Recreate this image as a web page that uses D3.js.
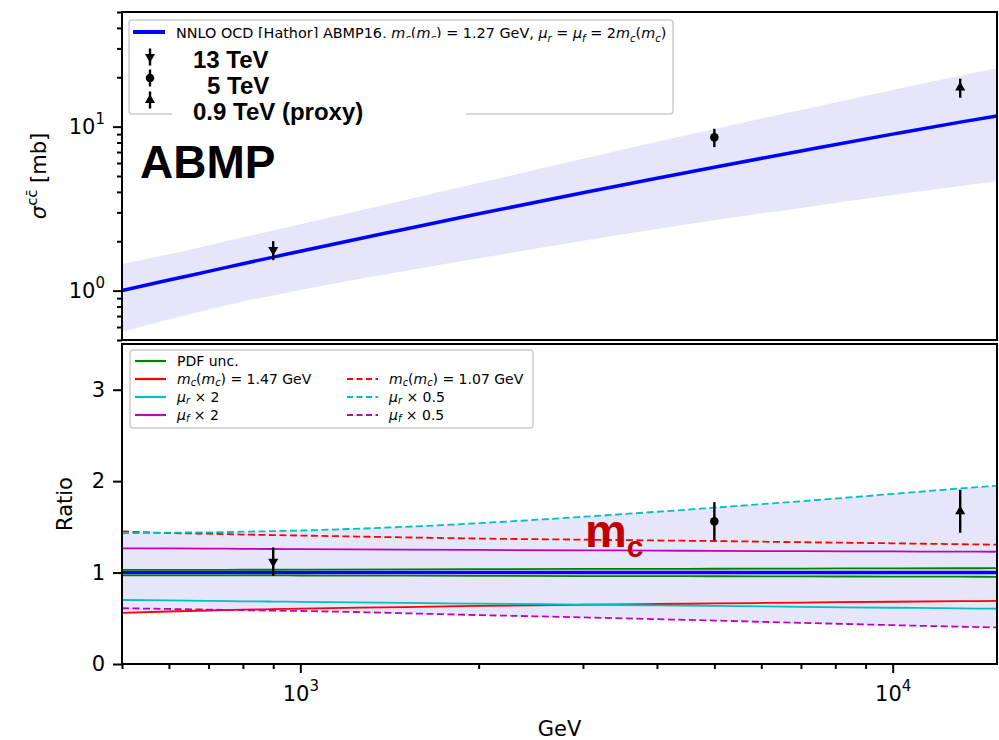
<!DOCTYPE html>
<html>
<head>
<meta charset="utf-8">
<script src="https://cdn.jsdelivr.net/npm/d3@7"></script>
<style>
  body { margin: 0; background: #fff; }
  svg { display: block; }
  text { white-space: pre; }
</style>
</head>
<body>
<svg id="chart" width="999" height="740"></svg>
<script>
// ---- data -------------------------------------------------------------
// centre-of-mass energy grid [GeV]
const energies = [500, 600, 700, 800, 900, 1000, 1500, 2000, 3000, 4000, 5000, 7000, 10000, 13000, 15000];
// NNLO QCD (Hathor) total charm cross section, ABMP16 [mb]
const sigmaCentral = [1.00, 1.16, 1.31, 1.46, 1.60, 1.74, 2.37, 2.94, 3.95, 4.85, 5.66, 7.10, 9.00, 10.65, 11.6];

// ratios of each variation to the central prediction
const pdfUp   = [1.030, 1.030, 1.030, 1.031, 1.031, 1.032, 1.035, 1.037, 1.040, 1.041, 1.042, 1.044, 1.046, 1.047, 1.048];
const pdfDown = [0.970, 0.970, 0.970, 0.969, 0.969, 0.968, 0.966, 0.964, 0.962, 0.961, 0.960, 0.958, 0.956, 0.955, 0.954];
const mcHigh  = [0.560, 0.574, 0.585, 0.594, 0.600, 0.606, 0.623, 0.635, 0.648, 0.656, 0.662, 0.672, 0.681, 0.687, 0.690];
const mcLow   = [1.450, 1.432, 1.425, 1.416, 1.410, 1.405, 1.385, 1.372, 1.360, 1.351, 1.345, 1.332, 1.320, 1.310, 1.305];
const murUp   = [0.700, 0.695, 0.690, 0.686, 0.683, 0.680, 0.668, 0.660, 0.650, 0.641, 0.635, 0.625, 0.615, 0.608, 0.605];
const murDown = [1.430, 1.437, 1.440, 1.447, 1.453, 1.460, 1.500, 1.540, 1.610, 1.665, 1.710, 1.780, 1.860, 1.920, 1.950];
const mufUp   = [1.265, 1.264, 1.262, 1.260, 1.258, 1.257, 1.252, 1.248, 1.243, 1.240, 1.237, 1.234, 1.231, 1.229, 1.228];
const mufDown = [0.610, 0.602, 0.595, 0.589, 0.584, 0.580, 0.555, 0.535, 0.510, 0.490, 0.475, 0.450, 0.425, 0.408, 0.400];

// measurements
const pointEnergies = [900, 5000, 13000];
const pointMarkers  = ["down", "circle", "up"];
const sigmaData     = [1.77, 8.6, 17.3];
const sigmaErr      = [0.235, 1.1, 2.3];
const ratioData     = [1.12, 1.56, 1.67];
const ratioErr      = [0.155, 0.21, 0.235];
const pointLabels   = ["13 TeV", "5 TeV", "0.9 TeV (proxy)"];

// axis ticks
const xMajor = [1000, 10000];
const xMinor = [500, 600, 700, 800, 900, 2000, 3000, 4000, 5000, 6000, 7000, 8000, 9000];
const sigMajor = [1, 10];
const sigMinor = [0.5, 0.6, 0.7, 0.8, 0.9, 2, 3, 4, 5, 6, 7, 8, 9, 20, 30, 40, 50];
const ratioTicks = [0, 1, 2, 3];

// ---- layout -----------------------------------------------------------
const FONT = '"DejaVu Sans", sans-serif';
const BOLD = '"Liberation Sans", Arial, sans-serif';
const svg = d3.select("#chart");
const L = 122, R = 997;
const panelTop = { y0: 12, y1: 340 };
const panelBot = { y0: 344, y1: 664 };

const x = d3.scaleLog().domain([500, 15000]).range([L, R]);
const ySig = d3.scaleLog().domain([0.5, 50]).range([panelTop.y1, panelTop.y0]);
const yRat = d3.scaleLinear().domain([0, 3.5]).range([panelBot.y1, panelBot.y0]);

const variations = [
  { v: mcHigh,  color: "#ff0000", dash: null },
  { v: mcLow,   color: "#ff0000", dash: "7,3.5" },
  { v: murUp,   color: "#00bfbf", dash: null },
  { v: murDown, color: "#00bfbf", dash: "7,3.5" },
  { v: mufUp,   color: "#bf00bf", dash: null },
  { v: mufDown, color: "#bf00bf", dash: "7,3.5" }
];
const allRatios = [pdfUp, pdfDown, mcHigh, mcLow, murUp, murDown, mufUp, mufDown];
const envLo = energies.map((e, i) => d3.min(allRatios, a => a[i]));
const envHi = energies.map((e, i) => d3.max(allRatios, a => a[i]));

const defs = svg.append("defs");
defs.append("clipPath").attr("id", "clipTop").append("rect")
  .attr("x", L).attr("y", panelTop.y0).attr("width", R - L).attr("height", panelTop.y1 - panelTop.y0);
defs.append("clipPath").attr("id", "clipBot").append("rect")
  .attr("x", L).attr("y", panelBot.y0).attr("width", R - L).attr("height", panelBot.y1 - panelBot.y0);

// rich text: [text, kind] with kind n (normal), i (italic), s (italic subscript), u (superscript)
function rich(textSel, parts, size, subShift) {
  const sub = subShift === undefined ? 0.28 : subShift;
  let shift = 0;
  parts.forEach(([t, k]) => {
    let target = 0, fs = size;
    if (k === "s") { target = size * sub; fs = size * 0.7; }
    if (k === "u") { target = -size * 0.42; fs = size * 0.7; }
    const ts = textSel.append("tspan").text(t).attr("font-size", fs);
    if (target - shift !== 0) ts.attr("dy", target - shift);
    if (k === "i" || k === "s") ts.attr("font-style", "italic");
    shift = target;
  });
}

function marker(g, kind, cx, cy, scale) {
  const s = scale || 1;
  if (kind === "circle") {
    g.append("circle").attr("cx", cx).attr("cy", cy).attr("r", 4.3 * s).attr("fill", "#000");
  } else {
    const sym = d3.symbol().type(d3.symbolTriangle).size(44 * s * s);
    g.append("path").attr("d", sym())
      .attr("transform", `translate(${cx},${cy})` + (kind === "down" ? " rotate(180)" : ""))
      .attr("fill", "#000");
  }
}

function errorPoint(g, kind, cx, cy, yLo, yHi) {
  g.append("line").attr("x1", cx).attr("x2", cx).attr("y1", yLo).attr("y2", yHi)
    .attr("stroke", "#000").attr("stroke-width", 2.4);
  marker(g, kind, cx, cy);
}

function powLabels(sel) {
  sel.each(function (d) {
    const t = d3.select(this);
    t.text(null);
    t.append("tspan").text("10");
    t.append("tspan").attr("dy", -10).attr("font-size", 15).text(Math.round(Math.log10(d)));
  });
}

function styleAxis(g) {
  g.select(".domain").remove();
  g.selectAll(".tick line").attr("stroke", "#000").attr("stroke-width", 2);
  g.selectAll(".tick text").attr("font-family", FONT).attr("font-size", 21).attr("fill", "#000");
}

// ---- top panel: cross section ------------------------------------------
const gTop = svg.append("g").attr("clip-path", "url(#clipTop)");
gTop.append("path")
  .datum(energies.map((e, i) => ({ e, lo: sigmaCentral[i] * envLo[i], hi: sigmaCentral[i] * envHi[i] })))
  .attr("fill", "#e6e6fa")
  .attr("d", d3.area().x(d => x(d.e)).y0(d => ySig(d.lo)).y1(d => ySig(d.hi)).curve(d3.curveMonotoneX));
gTop.append("path")
  .datum(energies.map((e, i) => ({ e, v: sigmaCentral[i] })))
  .attr("fill", "none").attr("stroke", "#0000ff").attr("stroke-width", 3.5)
  .attr("d", d3.line().x(d => x(d.e)).y(d => ySig(d.v)).curve(d3.curveMonotoneX));
pointEnergies.forEach((e, i) => {
  errorPoint(gTop, pointMarkers[i], x(e), ySig(sigmaData[i]),
    ySig(sigmaData[i] - sigmaErr[i]), ySig(sigmaData[i] + sigmaErr[i]));
});

svg.append("g").attr("transform", `translate(${L},0)`)
  .call(d3.axisLeft(ySig).tickValues(sigMinor).tickSize(5).tickFormat(""))
  .call(styleAxis);
svg.append("g").attr("transform", `translate(${L},0)`)
  .call(d3.axisLeft(ySig).tickValues(sigMajor).tickSize(9).tickPadding(8))
  .call(styleAxis)
  .call(g => g.selectAll(".tick text").call(powLabels));

svg.append("rect").attr("x", L).attr("y", panelTop.y0).attr("width", R - L).attr("height", panelTop.y1 - panelTop.y0)
  .attr("fill", "none").attr("stroke", "#000").attr("stroke-width", 2);

// y label: sigma^{c cbar} [mb]
const sigLab = svg.append("text")
  .attr("transform", `translate(46,${(panelTop.y0 + panelTop.y1) / 2}) rotate(-90)`)
  .attr("text-anchor", "middle").attr("font-family", FONT).attr("font-size", 21);
rich(sigLab, [["σ", "i"], ["cc\u0304", "u"], [" [mb]", "n"]], 21);

// top legend
const legTop = svg.append("g");
legTop.append("rect").attr("x", 129).attr("y", 20).attr("width", 544).attr("height", 94).attr("rx", 3)
  .attr("fill", "#fff").attr("fill-opacity", 0.8).attr("stroke", "#cccccc").attr("stroke-width", 1.5);
legTop.append("line").attr("x1", 133).attr("x2", 165).attr("y1", 32).attr("y2", 32)
  .attr("stroke", "#0000ff").attr("stroke-width", 4);
const legTopText = legTop.append("text").attr("x", 176).attr("y", 37.5)
  .attr("font-family", FONT).attr("font-size", 14.4).attr("fill", "#000");
rich(legTopText, [
  ["NNLO QCD [Hathor] ABMP16, ", "n"], ["m", "i"], ["c", "s"], ["(", "n"], ["m", "i"], ["c", "s"],
  [") = 1.27 GeV, ", "n"], ["μ", "i"], ["r", "s"], [" = ", "n"], ["μ", "i"], ["f", "s"],
  [" = 2", "n"], ["m", "i"], ["c", "s"], ["(", "n"], ["m", "i"], ["c", "s"], [")", "n"]
], 14.4);
const legRowsY = [57, 78, 100];
pointMarkers.forEach((k, i) => {
  legTop.append("line").attr("x1", 150).attr("x2", 150).attr("y1", legRowsY[i] - 8.5).attr("y2", legRowsY[i] + 8.5)
    .attr("stroke", "#000").attr("stroke-width", 2.4);
  marker(legTop, k, 150, legRowsY[i]);
});
// label box over the legend
legTop.append("rect").attr("x", 172).attr("y", 38).attr("width", 294).attr("height", 90).attr("fill", "#fff");
const labX = [193, 207, 193];
const labY = [68, 94, 120];
pointLabels.forEach((t, i) => {
  legTop.append("text").attr("x", labX[i]).attr("y", labY[i])
    .attr("font-family", BOLD).attr("font-weight", "bold").attr("font-size", 24).attr("fill", "#000").text(t);
});
svg.append("text").attr("x", 140).attr("y", 178)
  .attr("font-family", BOLD).attr("font-weight", "bold").attr("font-size", 46).attr("fill", "#000").text("ABMP");

// ---- bottom panel: ratios ----------------------------------------------
const gBot = svg.append("g").attr("clip-path", "url(#clipBot)");
gBot.append("path")
  .datum(energies.map((e, i) => ({ e, lo: envLo[i], hi: envHi[i] })))
  .attr("fill", "#e6e6fa")
  .attr("d", d3.area().x(d => x(d.e)).y0(d => yRat(d.lo)).y1(d => yRat(d.hi)).curve(d3.curveMonotoneX));
const ratioLine = d3.line().x(d => x(d.e)).y(d => yRat(d.v)).curve(d3.curveMonotoneX);
variations.forEach(s => {
  gBot.append("path").datum(energies.map((e, i) => ({ e, v: s.v[i] })))
    .attr("fill", "none").attr("stroke", s.color).attr("stroke-width", 1.8)
    .attr("stroke-dasharray", s.dash).attr("d", ratioLine);
});
gBot.append("path").datum(energies.map(e => ({ e, v: 1 })))
  .attr("fill", "none").attr("stroke", "#0000ff").attr("stroke-width", 3.5).attr("d", ratioLine);
[pdfUp, pdfDown].forEach(a => {
  gBot.append("path").datum(energies.map((e, i) => ({ e, v: a[i] })))
    .attr("fill", "none").attr("stroke", "#008000").attr("stroke-width", 1.8).attr("d", ratioLine);
});
pointEnergies.forEach((e, i) => {
  errorPoint(gBot, pointMarkers[i], x(e), yRat(ratioData[i]),
    yRat(ratioData[i] - ratioErr[i]), yRat(ratioData[i] + ratioErr[i]));
});

svg.append("g").attr("transform", `translate(${L},0)`)
  .call(d3.axisLeft(yRat).tickValues(ratioTicks).tickSize(9).tickPadding(8).tickFormat(d3.format("d")))
  .call(styleAxis);
svg.append("g").attr("transform", `translate(0,${panelBot.y1})`)
  .call(d3.axisBottom(x).tickValues(xMinor).tickSize(5).tickFormat(""))
  .call(styleAxis);
svg.append("g").attr("transform", `translate(0,${panelBot.y1})`)
  .call(d3.axisBottom(x).tickValues(xMajor).tickSize(9).tickPadding(13))
  .call(styleAxis)
  .call(g => g.selectAll(".tick text").call(powLabels));

svg.append("rect").attr("x", L).attr("y", panelBot.y0).attr("width", R - L).attr("height", panelBot.y1 - panelBot.y0)
  .attr("fill", "none").attr("stroke", "#000").attr("stroke-width", 2);

svg.append("text").attr("transform", `translate(72,${(panelBot.y0 + panelBot.y1) / 2}) rotate(-90)`)
  .attr("text-anchor", "middle").attr("font-family", FONT).attr("font-size", 21).text("Ratio");
svg.append("text").attr("x", (L + R) / 2).attr("y", 736)
  .attr("text-anchor", "middle").attr("font-family", FONT).attr("font-size", 21).text("GeV");

// m_c annotation
const mcLab = svg.append("text").attr("x", 585).attr("y", 547)
  .attr("font-family", BOLD).attr("font-weight", "bold").attr("fill", "#c00000");
mcLab.append("tspan").attr("font-size", 47).text("m");
mcLab.append("tspan").attr("font-size", 30).attr("dy", 10).text("c");

// bottom legend
const legBot = svg.append("g");
legBot.append("rect").attr("x", 130).attr("y", 350).attr("width", 403).attr("height", 78).attr("rx", 3)
  .attr("fill", "#fff").attr("fill-opacity", 0.8).attr("stroke", "#cccccc").attr("stroke-width", 1.5);
const rowY = [361, 379, 397, 415];
const legendItems = [
  { col: 0, row: 0, color: "#008000", dash: null, parts: [["PDF unc.", "n"]] },
  { col: 0, row: 1, color: "#ff0000", dash: null, parts: [["m", "i"], ["c", "s"], ["(", "n"], ["m", "i"], ["c", "s"], [") = 1.47 GeV", "n"]] },
  { col: 0, row: 2, color: "#00bfbf", dash: null, parts: [["μ", "i"], ["r", "s"], [" × 2", "n"]] },
  { col: 0, row: 3, color: "#bf00bf", dash: null, parts: [["μ", "i"], ["f", "s"], [" × 2", "n"]] },
  { col: 1, row: 1, color: "#ff0000", dash: "6,3.5", parts: [["m", "i"], ["c", "s"], ["(", "n"], ["m", "i"], ["c", "s"], [") = 1.07 GeV", "n"]] },
  { col: 1, row: 2, color: "#00bfbf", dash: "6,3.5", parts: [["μ", "i"], ["r", "s"], [" × 0.5", "n"]] },
  { col: 1, row: 3, color: "#bf00bf", dash: "6,3.5", parts: [["μ", "i"], ["f", "s"], [" × 0.5", "n"]] }
];
const colX = [135, 347];
legendItems.forEach(it => {
  const x0 = colX[it.col], y0 = rowY[it.row];
  legBot.append("line").attr("x1", x0).attr("x2", x0 + 31).attr("y1", y0).attr("y2", y0)
    .attr("stroke", it.color).attr("stroke-width", 2.2).attr("stroke-dasharray", it.dash);
  const t = legBot.append("text").attr("x", x0 + 42).attr("y", y0 + 5)
    .attr("font-family", FONT).attr("font-size", 14).attr("fill", "#000");
  rich(t, it.parts, 14, 0.16);
});
</script>
</body>
</html>
